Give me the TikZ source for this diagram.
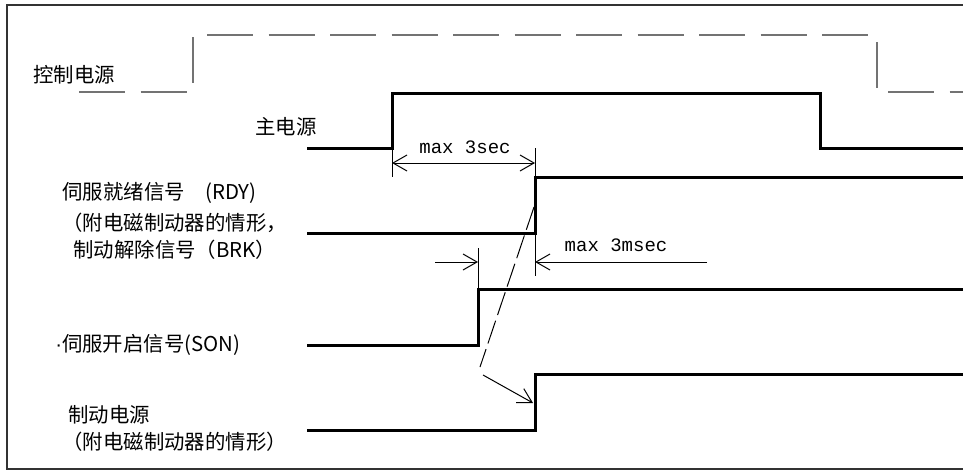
\documentclass[tikz,border=0pt]{standalone}
\usepackage{fontspec}
\setmonofont{Liberation Mono}
\newfontfamily\cjk{Noto Sans CJK SC}
\newfontfamily\latinsans{Liberation Sans}
\usetikzlibrary{arrows.meta}

\tikzset{
  signal/.style={line width=1.5pt, line join=miter},
  ctrl/.style={black!55, line width=0.6pt},
  dim/.style={line width=0.5pt},
  barb/.style={dim, -{Straight Barb[length=7pt,width=8pt]}},
  sig label/.style={font=\cjk\fontsize{10.2}{12}\selectfont, anchor=west, inner sep=0pt},
  time label/.style={font=\ttfamily\fontsize{9.5}{11}\selectfont, inner sep=0pt}
}

\begin{document}
\begin{tikzpicture}[x=0.5pt, y=-0.5pt]
  \useasboundingbox (0,0) rectangle (963,471);
  \draw[black!80, line width=1pt] (963,5) -- (7,5) -- (7,469) -- (963,469);

  % signal names
  \node[sig label] (ctrlpower) at (33,75) {控制电源};
  \node[sig label] (mainpower) at (255,127) {主电源};
  \node[sig label] (rdy) at (62,193) {伺服就绪信号　(RDY)};
  \node[sig label] (brkA) at (62,223) {（附电磁制动器的情形，};
  \node[sig label] (brkB) at (73,250) {制动解除信号（BRK）};
  \node[sig label] (son) at (57,345) {{\latinsans\kern-1pt·}伺服开启信号(SON)};
  \node[sig label] (brakepwrA) at (68,415) {制动电源};
  \node[sig label] (brakepwrB) at (62,442) {（附电磁制动器的情形）};

  % control power
  \draw[ctrl, dash pattern=on 23pt off 7.75pt] (79,92) -- (187,92);
  \draw[ctrl] (193,37) -- (193,83);
  \draw[ctrl, dash pattern=on 23pt off 7.75pt] (207,35) -- (868,35);
  \draw[ctrl] (877,42) -- (877,88);
  \draw[ctrl, dash pattern=on 23pt off 7.75pt] (888,92) -- (963,92);

  % main power, ready, servo on, brake power
  \draw[signal] (307,148) -- (392,148) -- (392,93) -- (820,93) -- (820,148) -- (963,148);
  \draw[signal] (307,233) -- (535,233) -- (535,177) -- (963,177);
  \draw[signal] (307,345) -- (478,345) -- (478,289) -- (963,289);
  \draw[signal] (307,430) -- (535,430) -- (535,374) -- (963,374);

  % edges used for timing
  \coordinate (mainon) at (392,163);
  \coordinate (rdyon) at (535,163);
  \coordinate (sonon) at (478,262);
  \coordinate (rdyon2) at (535,262);

  % max 3sec
  \draw[dim] (392,150) -- (392,177);
  \draw[dim] (535,148) -- (535,177);
  \draw[dim, {Straight Barb[length=7pt,width=8pt]}-{Straight Barb[length=7pt,width=8pt]}] (mainon) -- (rdyon);
  \node[time label] (t3s) at (465,147) {max 3sec};

  % max 3msec
  \draw[dim] (478,248) -- (478,289);
  \draw[dim] (535,233) -- (535,276);
  \draw[barb] (435,262) -- (sonon);
  \draw[barb] (707,262) -- (rdyon2);
  \node[time label] (t3ms) at (616,245) {max 3msec};

  % brake follows release signal
  \draw[dim, dash pattern=on 12pt off 3pt] (534,207) -- (480,367);
  \draw[barb] (483,375) -- (533,403);
\end{tikzpicture}
\end{document}
